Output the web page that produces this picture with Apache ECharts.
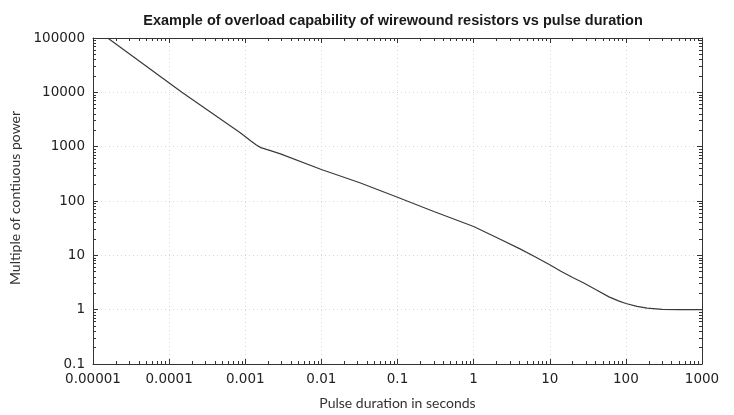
<!DOCTYPE html>
<html>
<head>
<meta charset="utf-8">
<script src="https://cdn.jsdelivr.net/npm/echarts@6/dist/echarts.min.js"></script>
<style>html,body{margin:0;padding:0;background:#fff;}#chart{width:734px;height:415px;}</style>
</head>
<body>
<div id="chart"></div>
<script>
// Pulse duration (s) and multiple of continuous power
var duration = [1.56e-5, 1.47e-4, 8.5e-4, 0.0012, 0.0014, 0.0016, 0.0019, 0.0023, 0.0029, 0.01, 0.032, 0.1, 0.3, 1, 2.2, 4, 6.4, 10, 14, 20, 28, 40, 60, 80, 100, 140, 190, 300, 500, 1000];
var multiple = [100000, 10000, 1830, 1260, 1070, 960, 890, 820, 735, 380, 217, 117, 64, 34, 20, 13.3, 9.4, 6.7, 5.1, 3.9, 3.1, 2.35, 1.72, 1.45, 1.30, 1.15, 1.07, 1.015, 1.0, 1.0];
var xTickLabels = ['0.00001', '0.0001', '0.001', '0.01', '0.1', '1', '10', '100', '1000'];
var yTickLabels = ['0.1', '1', '10', '100', '1000', '10000', '100000'];

var xMinExp = -5, yMinExp = -1;
function xLabel(v) { var e = Math.round(Math.log10(v)); return xTickLabels[e - xMinExp] || ''; }
function yLabel(v) { var e = Math.round(Math.log10(v)); return yTickLabels[e - yMinExp] || ''; }

var seriesData = duration.map(function (d, i) { return [d, multiple[i]]; });

var tickFont = 'DejaVu Sans';
var axisColor = '#333';
function baseX(extra) {
  return Object.assign({
    type: 'log', logBase: 10, min: 1e-5, max: 1000,
    axisLine: { show: true, lineStyle: { color: axisColor, width: 1 } },
    axisTick: { show: true, inside: true, length: 5, lineStyle: { color: axisColor } },
    minorTick: { show: true, splitNumber: 9, length: 3, lineStyle: { color: axisColor } },
    minorSplitLine: { show: false }
  }, extra);
}
function baseY(extra) {
  return Object.assign({
    type: 'log', logBase: 10, min: 0.1, max: 100000,
    axisLine: { show: true, lineStyle: { color: axisColor, width: 1 } },
    axisTick: { show: true, inside: true, length: 5, lineStyle: { color: axisColor } },
    minorTick: { show: true, splitNumber: 9, length: 3, lineStyle: { color: axisColor } },
    minorSplitLine: { show: false }
  }, extra);
}

var chart = echarts.init(document.getElementById('chart'), null, { renderer: 'canvas' });
chart.setOption({
  animation: false,
  backgroundColor: '#fff',
  title: {
    text: 'Example of overload capability of wirewound resistors vs pulse duration',
    left: 388, top: 8, textAlign: 'center',
    textStyle: { fontFamily: 'Liberation Sans', fontWeight: 'bold', fontSize: 14.5, color: '#1a1a1a' }
  },
  grid: { left: 93, right: 32, top: 38, bottom: 48, containLabel: false },
  xAxis: [
    baseX({
      position: 'bottom',
      name: 'Pulse duration in seconds', nameLocation: 'middle', nameGap: 32,
      nameTextStyle: { fontFamily: 'Lato', fontSize: 14, color: '#333' },
      axisLabel: { formatter: xLabel, fontFamily: tickFont, fontSize: 13.5, color: '#222', margin: 8 },
      splitLine: { show: true, lineStyle: { color: '#d8d8d8', type: [1, 3], width: 1 } }
    }),
    baseX({
      position: 'top',
      axisLabel: { show: false },
      splitLine: { show: false }
    })
  ],
  yAxis: [
    baseY({
      position: 'left',
      name: 'Multiple of contiuous power', nameLocation: 'middle', nameGap: 67,
      nameTextStyle: { fontFamily: 'Lato', fontSize: 14, color: '#333', padding: [0, 0, 0, 6] },
      axisLabel: { formatter: yLabel, fontFamily: tickFont, fontSize: 13.5, color: '#222', margin: 8 },
      splitLine: { show: true, lineStyle: { color: '#d8d8d8', type: [1, 3], width: 1 } }
    }),
    baseY({
      position: 'right',
      axisLabel: { show: false },
      splitLine: { show: false }
    })
  ],
  series: [{
    type: 'line',
    xAxisIndex: 0, yAxisIndex: 0,
    data: seriesData,
    showSymbol: false,
    smooth: false,
    lineStyle: { color: '#3a3a3a', width: 1.2 }
  }]
});
</script>
</body>
</html>
